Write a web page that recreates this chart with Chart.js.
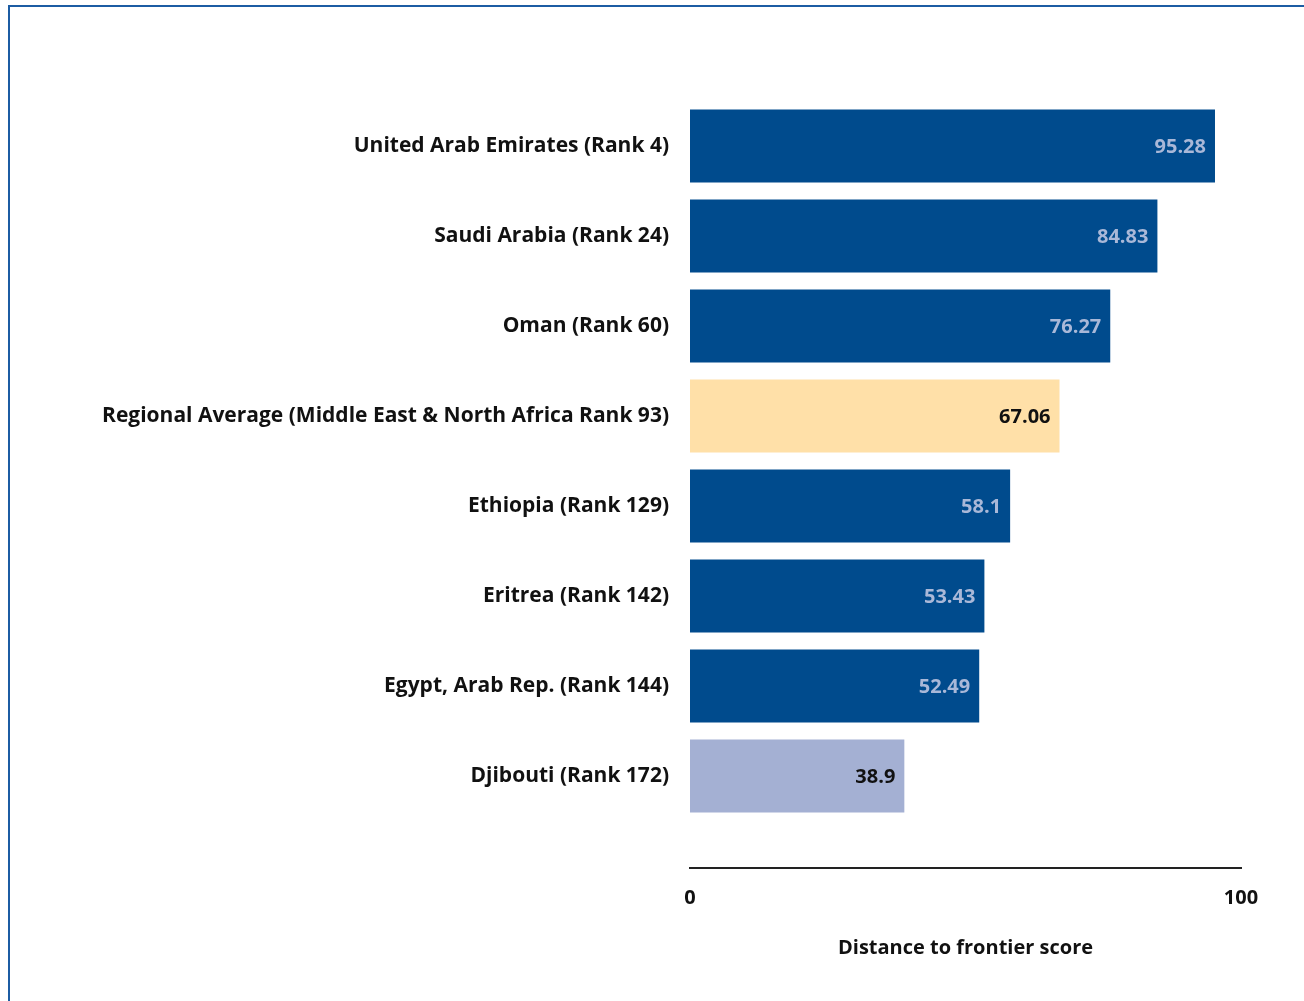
<!DOCTYPE html>
<html>
<head>
<meta charset="utf-8">
<script src="https://cdn.jsdelivr.net/npm/chart.js@4/dist/chart.umd.min.js"></script>
<style>
  html, body { margin: 0; padding: 0; background: #fff; overflow: hidden; }
  #frame { position: absolute; left: 8px; top: 5px; width: 1400px; height: 1100px;
           border-left: 2px solid #1c5ca3; border-top: 2px solid #1c5ca3; }
  #wrap { position: absolute; left: 0; top: 0; width: 1304px; height: 1001px; }
</style>
</head>
<body>
<div id="frame"></div>
<div id="wrap"><canvas id="myCanvas"></canvas></div>
<script>
const countries = [
    'United Arab Emirates (Rank 4)',
    'Saudi Arabia (Rank 24)',
    'Oman (Rank 60)',
    'Regional Average (Middle East & North Africa Rank 93)',
    'Ethiopia (Rank 129)',
    'Eritrea (Rank 142)',
    'Egypt, Arab Rep. (Rank 144)',
    'Djibouti (Rank 172)'
];
const scores = [95.28, 84.83, 76.27, 67.06, 58.1, 53.43, 52.49, 38.9];
const xTicks = [0, 100];

const DARK = '#004b8d';
const barColors = [DARK, DARK, DARK, '#ffe0a8', DARK, DARK, DARK, '#a4b0d3'];
const labelColors = ['#a9b8d8', '#a9b8d8', '#a9b8d8', '#111', '#a9b8d8', '#a9b8d8', '#a9b8d8', '#111'];

const FONT = { family: 'Open Sans', size: 20, weight: 'bold' };
const LABEL_FONT = { family: 'Open Sans', size: 21, weight: 'bold' };

const valueLabels = {
    id: 'valueLabels',
    afterDatasetsDraw(chart) {
        const ctx = chart.ctx;
        const meta = chart.getDatasetMeta(0);
        ctx.save();
        ctx.font = 'bold 20px "Open Sans"';
        ctx.textAlign = 'right';
        ctx.textBaseline = 'middle';
        meta.data.forEach((bar, i) => {
            ctx.fillStyle = labelColors[i];
            ctx.fillText(String(scores[i]), bar.x - 9, bar.y + 1);
        });
        ctx.restore();
    }
};

const dataConfig = {
    datasets: [{
        data: scores.map((v, i) => ({ x: v, y: i })),
        backgroundColor: barColors,
        borderWidth: 0,
        barPercentage: 0.81,
        categoryPercentage: 1.0
    }]
};

const config = {
    type: 'bar',
    data: dataConfig,
    options: {
        indexAxis: 'y',
        responsive: true,
        maintainAspectRatio: false,
        animation: false,
        layout: { padding: { top: 101, right: 63, left: 0, bottom: 0 } },
        plugins: { legend: { display: false }, tooltip: { enabled: false } },
        scales: {
            x: {
                type: 'linear',
                min: 0,
                max: 100,
                afterBuildTicks: s => { s.ticks = xTicks.map(v => ({ value: v })); },
                afterFit: s => { s.height = 133; },
                grid: { display: false, drawTicks: false },
                border: { display: true, color: '#222', width: 2 },
                ticks: { padding: 18, color: '#111', font: FONT, maxRotation: 0 },
                title: {
                    display: true,
                    text: 'Distance to frontier score',
                    color: '#111',
                    font: FONT,
                    padding: { top: 0, bottom: 41 }
                }
            },
            y: {
                type: 'linear',
                reverse: true,
                offset: false,
                min: -0.5,
                max: 8.022,
                afterBuildTicks: s => { s.ticks = countries.map((_, i) => ({ value: i })); },
                afterFit: s => { s.width = 690; },
                grid: { display: false, drawTicks: false },
                border: { display: false },
                ticks: {
                    padding: 21,
                    color: '#111',
                    font: LABEL_FONT,
                    callback: v => countries[v]
                }
            }
        }
    },
    plugins: [valueLabels]
};

const myChart = new Chart(document.getElementById('myCanvas'), config);
</script>
</body>
</html>
